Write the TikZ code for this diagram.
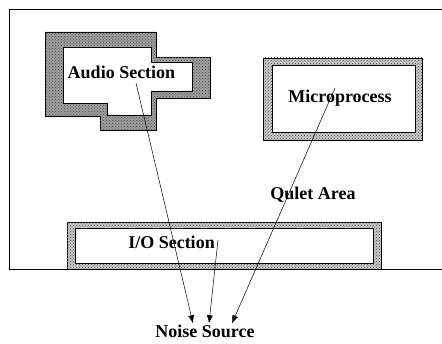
\documentclass[tikz,border=0pt]{standalone}
\usepackage{fontspec}
\setmainfont{Liberation Serif}
\usetikzlibrary{arrows.meta,positioning,patterns}

\begin{document}
\begin{tikzpicture}[
  x=1pt, y=-1pt,
  font=\bfseries\fontsize{18}{21}\selectfont,
  >=Latex,
  arrow/.style={-{Latex[length=8pt,width=6pt]}, draw=black, line width=0.5pt},
  board/.style={draw=black, line width=0.9pt},
  shield/.style={draw=black, fill=black!38, line width=0.8pt,
    postaction={pattern=crosshatch dots, pattern color=black!70}},
  lightshield/.style={shield, fill=black!22},
  clear/.style={draw=black, fill=white, line width=0.6pt},
  label/.style={inner sep=0pt, anchor=base}
]
\useasboundingbox (0,0) rectangle (442,344);

% Board edge
\draw[board] (442,9) -- (9,9) -- (9,269) -- (442,269);

% Audio section (stepped outline)
\draw[shield] (45,32) -- (156,32) -- (156,57) -- (210,57) -- (210,98) -- (156,98)
  -- (156,130) -- (100,130) -- (100,116) -- (45,116) -- cycle;
\draw[clear] (63,47) -- (151,47) -- (151,62) -- (192,62) -- (192,91) -- (151,91)
  -- (151,115) -- (107,115) -- (107,103) -- (63,103) -- cycle;
\node[label] (audio) at (121.5,79) {Audio Section};

% Microprocessor
\draw[lightshield] (263,58) rectangle (422,140);
\draw[clear] (272,65) rectangle (415,132);
\node[label] (micro) at (340,103) {Microprocess};

% Quiet area
\node[label] (quiet) at (313,200) {Qulet Area};

% I/O section
\draw[lightshield] (67,222) rectangle (381,269);
\draw[clear] (75,228) rectangle (373,263);
\node[label] (io) at (171.5,249) {I/O Section};

% Noise source
\node[label] (noise) at (205,338) {Noise Source};

% Arrows
\coordinate (audio in) at (136,83);
\coordinate (micro in) at (335,88);
\coordinate (io in) at (218,240);
\draw[arrow] (audio in) -- ([xshift=-12pt,yshift=2pt]noise.north);
\draw[arrow] (io in) -- ([xshift=4pt,yshift=2pt]noise.north);
\draw[arrow] (micro in) -- ([xshift=27pt,yshift=2pt]noise.north);

\end{tikzpicture}
\end{document}
